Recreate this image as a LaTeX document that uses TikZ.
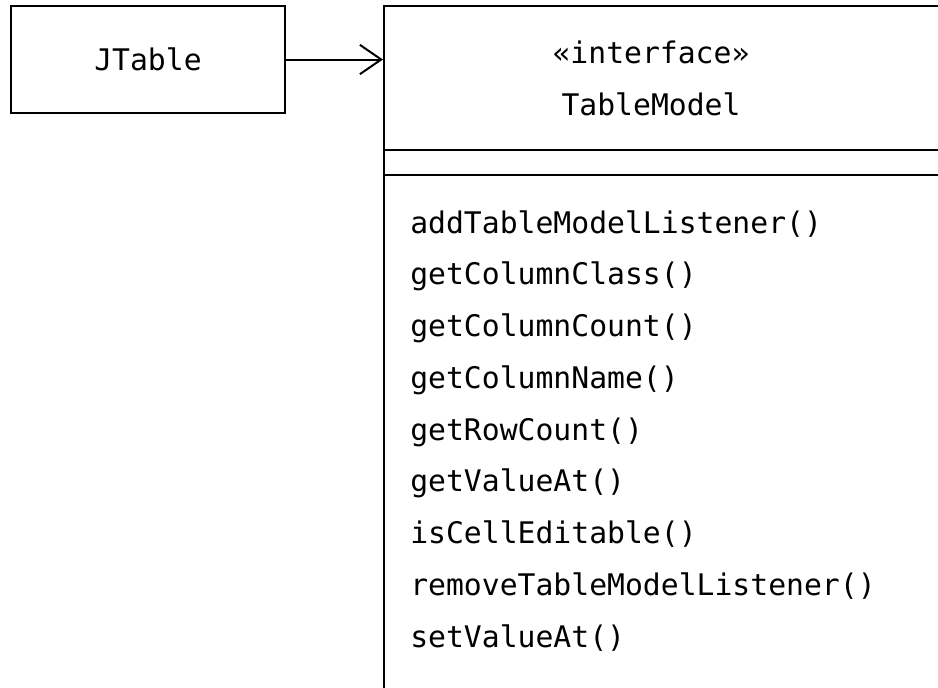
\documentclass[tikz,border=0pt]{standalone}
\usepackage{fontspec}
\setmonofont{DejaVu Sans Mono}
\usetikzlibrary{positioning, arrows.meta}

\tikzset{
    umlbox/.style={draw, line width=1.5pt, rectangle, inner sep=0pt},
    umltext/.style={font=\ttfamily\fontsize{22.3}{26}\selectfont, inner sep=0pt},
    uses/.style={line width=1.5pt, -{Straight Barb[length=16pt, width=22pt]}}
}

\begin{document}
\begin{tikzpicture}[x=0.75pt, y=-0.75pt]
        \useasboundingbox (0,0) rectangle (938,687);
        \clip (0,0) rectangle (938,687);

        \node[umlbox, minimum width=205.5pt, minimum height=80.25pt] (jtable) at (148,59.5) {};
        \node[umltext, anchor=base] (jtablename) at (148,70) {JTable};

        % interface box runs past the right and lower edge
        \node[umlbox, minimum width=450pt, minimum height=540pt] (model) at (684,366) {};
        \node[umltext, anchor=base] (stereo) at (651,63) {«interface»};
        \node[umltext, anchor=base] (modelname) at (651,115) {TableModel};

        \coordinate (sepa) at (model.west |- 0,150);
        \coordinate (sepb) at (model.west |- 0,175);
        \draw[line width=1.5pt] (sepa) -- (sepa -| model.east);
        \draw[line width=1.5pt] (sepb) -- (sepb -| model.east);

        \foreach \m [count=\i from 0] in {
                addTableModelListener(),
                getColumnClass(),
                getColumnCount(),
                getColumnName(),
                getRowCount(),
                getValueAt(),
                isCellEditable(),
                removeTableModelListener(),
                setValueAt()}{
                \node[umltext, anchor=base west] (m\i) at (410,233+51.75*\i) {\m};
            }

        \draw[uses] (jtable.east) -- (jtable.east -| model.west);

    \end{tikzpicture}
\end{document}
